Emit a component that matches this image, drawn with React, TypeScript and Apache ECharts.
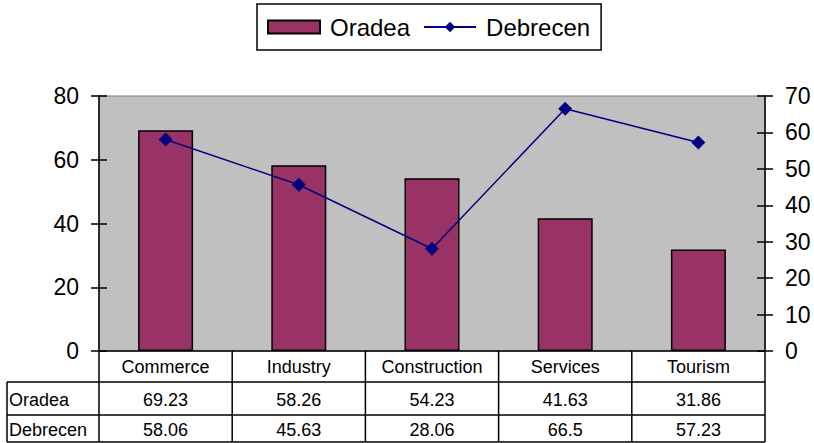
import React, { useEffect, useRef } from "react";
import * as echarts from "echarts";

const categories = ["Commerce", "Industry", "Construction", "Services", "Tourism"];
const oradea = [69.23, 58.26, 54.23, 41.63, 31.86];
const debrecen = [58.06, 45.63, 28.06, 66.5, 57.23];
const seriesNames = ["Oradea", "Debrecen"];
const leftTicks = { min: 0, max: 80, interval: 20 };
const rightTicks = { min: 0, max: 70, interval: 10 };

const W = 814;
const H = 443;
const GL = 99;
const GR = 765;
const GT = 96;
const GB = 351;
const ROW1 = 382;
const ROW2 = 415;
const ROW3 = 442;
const TL = 7;
const FONT = "'Liberation Sans', Arial, sans-serif";

export default function App() {
  const ref = useRef<HTMLDivElement>(null);
  useEffect(() => {
    if (!ref.current) return;
    const chart = echarts.init(ref.current, undefined, { renderer: "svg" });
    const colW = (GR - GL) / categories.length;
    const lineStyle = { stroke: "#000", lineWidth: 1.5 };
    const graphics: any[] = [];
    [ROW1, ROW2, ROW3].forEach((y) =>
      graphics.push({ type: "line", shape: { x1: TL, y1: y, x2: GR, y2: y }, style: lineStyle, z: 100 })
    );
    graphics.push({ type: "line", shape: { x1: TL, y1: ROW1, x2: TL, y2: ROW3 }, style: lineStyle, z: 100 });
    for (let i = 0; i <= categories.length; i++) {
      const x = GL + i * colW;
      graphics.push({ type: "line", shape: { x1: x, y1: GB, x2: x, y2: ROW3 }, style: lineStyle, z: 100 });
    }
    const rows = [oradea, debrecen];
    const rowCenters = [(ROW1 + ROW2) / 2 + 1, (ROW2 + ROW3) / 2 + 1];
    rows.forEach((vals, r) => {
      graphics.push({
        type: "text",
        x: TL + 2,
        y: rowCenters[r],
        style: { text: seriesNames[r], fill: "#000", font: `18px ${FONT}`, textAlign: "left", textVerticalAlign: "middle" },
        z: 100,
      });
      vals.forEach((v, i) => {
        graphics.push({
          type: "text",
          x: GL + (i + 0.5) * colW,
          y: rowCenters[r],
          style: { text: String(v), fill: "#000", font: `18px ${FONT}`, textAlign: "center", textVerticalAlign: "middle" },
          z: 100,
        });
      });
    });

    const yBase = (pos: "left" | "right", t: { min: number; max: number; interval: number }) => ({
      type: "value",
      position: pos,
      min: t.min,
      max: t.max,
      interval: t.interval,
      splitLine: { show: false },
    });

    chart.setOption({
      animation: false,
      textStyle: { fontFamily: FONT },
      legend: {
        left: 257,
        top: 4,
        padding: [11, 11, 11, 10],
        borderColor: "#000",
        borderWidth: 1.5,
        itemWidth: 52,
        itemHeight: 13,
        itemGap: 13,
        textStyle: { fontSize: 24, color: "#000", fontFamily: FONT, padding: [0, 0, 0, 5] },
        data: [
          { name: seriesNames[0], icon: "rect" },
          { name: seriesNames[1] },
        ],
      },
      grid: {
        left: GL,
        right: W - GR,
        top: GT,
        bottom: H - GB,
        show: true,
        backgroundColor: "#C0C0C0",
        borderColor: "#808080",
        borderWidth: 1,
      },
      xAxis: {
        type: "category",
        data: categories,
        axisLine: { lineStyle: { color: "#000", width: 1.5 } },
        axisTick: { show: false },
        axisLabel: { color: "#000", fontSize: 18, margin: 7, fontFamily: FONT },
      },
      yAxis: [
        {
          ...yBase("left", leftTicks),
          axisLine: { show: true, lineStyle: { color: "#000", width: 1.5 } },
          axisTick: { show: true, length: 8, lineStyle: { color: "#000", width: 1.5 } },
          axisLabel: { color: "#000", fontSize: 23, margin: 20, fontFamily: FONT },
        },
        {
          ...yBase("right", rightTicks),
          axisLine: { show: true, lineStyle: { color: "#000", width: 1.5 } },
          axisTick: { show: true, length: 8, lineStyle: { color: "#000", width: 1.5 } },
          axisLabel: { color: "#000", fontSize: 23, margin: 20, fontFamily: FONT },
        },
        {
          ...yBase("left", leftTicks),
          axisLine: { show: false },
          axisTick: { show: true, inside: true, length: 8, lineStyle: { color: "#000", width: 1.5 } },
          axisLabel: { show: false },
        },
        {
          ...yBase("right", rightTicks),
          axisLine: { show: false },
          axisTick: { show: true, inside: true, length: 8, lineStyle: { color: "#000", width: 1.5 } },
          axisLabel: { show: false },
        },
      ],
      series: [
        {
          name: seriesNames[0],
          type: "bar",
          yAxisIndex: 0,
          data: oradea,
          barWidth: 55,
          itemStyle: { color: "#993366", borderColor: "#000", borderWidth: 1.5 },
        },
        {
          name: seriesNames[1],
          type: "line",
          yAxisIndex: 1,
          data: debrecen,
          symbol: "diamond",
          symbolSize: 14,
          itemStyle: { color: "#000080" },
          lineStyle: { color: "#000080", width: 1.5 },
        },
      ],
      graphic: graphics,
    });
    return () => chart.dispose();
  }, []);
  return (
    <div
      ref={ref}
      style={{ position: "absolute", left: 0, top: 0, width: W, height: H, background: "#fff" }}
    />
  );
}
